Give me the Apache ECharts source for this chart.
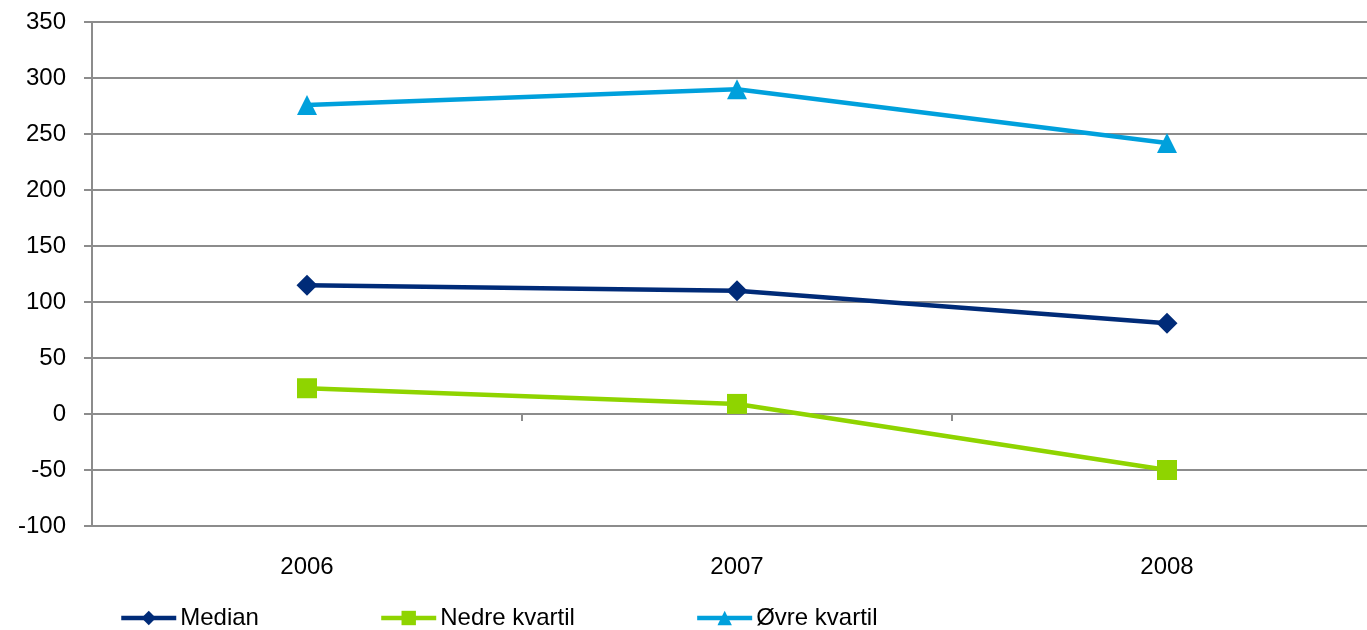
<!DOCTYPE html>
<html>
<head>
<meta charset="utf-8">
<script src="https://cdn.jsdelivr.net/npm/echarts@6/dist/echarts.min.js"></script>
<style>
    html, body { margin: 0; padding: 0; background: #fff; }
    #chart { width: 1367px; height: 630px; }
</style>
</head>
<body>
<div id="chart"></div>
<script>
const years = ['2006', '2007', '2008']
const median = [115, 110, 81]
const nedreKvartil = [23, 9, -50]
const ovreKvartil = [276, 290, 242]

const font = 'Arial, "Liberation Sans", sans-serif'
const gridGray = '#8c8c8c'

const chart = echarts.init(document.getElementById('chart'))
chart.setOption({
    animation: false,
    grid: {
        left: 92,
        top: 22,
        width: 1290,
        bottom: 104,
        outerBoundsMode: 'none',
        containLabel: false,
    },
    legend: {
        top: 601,
        left: 114,
        itemGap: 120,
        itemWidth: 55,
        itemHeight: 18,
        lineStyle: { width: 4.5 },
        textStyle: { fontFamily: font, fontSize: 24, color: '#000', padding: [0, 0, 0, -1] },
        data: ['Median', 'Nedre kvartil', 'Øvre kvartil'],
    },
    xAxis: [{
        type: 'category',
        data: years,
        axisLine: { onZero: true, lineStyle: { color: gridGray, width: 2 } },
        axisTick: { show: true, length: 7, interval: 0, lineStyle: { color: gridGray, width: 2 } },
        axisLabel: { show: false },
    }, {
        type: 'category',
        data: years,
        position: 'bottom',
        axisLine: { show: false, onZero: false },
        axisTick: { show: false },
        axisLabel: { margin: 29, fontFamily: font, fontSize: 24, color: '#000' },
    }],
    yAxis: {
        type: 'value',
        min: -100,
        max: 350,
        interval: 50,
        axisLine: { show: true, lineStyle: { color: gridGray, width: 2 } },
        axisTick: { show: true, length: 8, lineStyle: { color: gridGray, width: 2 } },
        axisLabel: { margin: 26, fontFamily: font, fontSize: 24, color: '#000' },
        splitLine: { lineStyle: { color: gridGray, width: 2 } },
    },
    series: [{
        name: 'Median',
        type: 'line',
        data: median,
        symbol: 'diamond',
        symbolSize: 21,
        lineStyle: { color: '#002b78', width: 4.5 },
        itemStyle: { color: '#002b78' },
    }, {
        name: 'Nedre kvartil',
        type: 'line',
        data: nedreKvartil,
        symbol: 'rect',
        symbolSize: 20,
        lineStyle: { color: '#8fd400', width: 4.5 },
        itemStyle: { color: '#8fd400' },
    }, {
        name: 'Øvre kvartil',
        type: 'line',
        data: ovreKvartil,
        symbol: 'triangle',
        symbolSize: 20,
        lineStyle: { color: '#00a0dc', width: 4.5 },
        itemStyle: { color: '#00a0dc' },
    }],
})
</script>
</body>
</html>
